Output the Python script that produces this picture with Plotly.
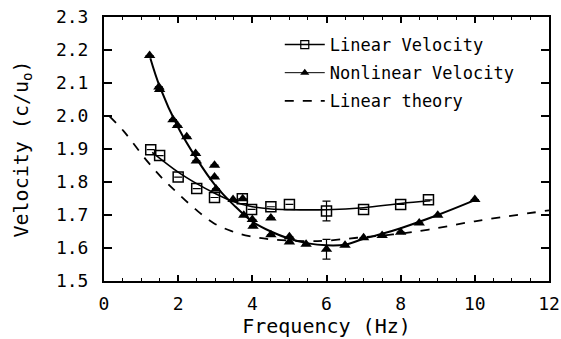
import plotly.graph_objects as go

# Linear velocity (squares)
lin_x = [1.26, 1.5, 2.0, 2.5, 2.98, 3.73, 3.98, 4.5, 5.0, 6.0, 7.0, 8.0, 8.75]
lin_y = [1.898, 1.88, 1.815, 1.78, 1.753, 1.749, 1.717, 1.725, 1.732, 1.712, 1.717, 1.732, 1.746]
lin_err = [0, 0, 0, 0, 0, 0, 0, 0, 0, 0.03, 0, 0, 0]

# Nonlinear velocity (triangles)
nl_x = [1.23, 1.48, 1.5, 1.86, 1.98, 2.23, 2.47, 2.49, 2.98, 2.98, 3.02, 3.48, 3.74, 3.77,
        4.0, 4.02, 4.5, 4.5, 5.0, 5.0, 5.45, 6.0, 6.5, 7.0, 7.5, 8.0, 8.5, 9.0, 10.0]
nl_y = [2.183, 2.088, 2.08, 1.989, 1.971, 1.937, 1.886, 1.864, 1.851, 1.815, 1.779, 1.747, 1.749, 1.699,
        1.686, 1.666, 1.640, 1.691, 1.634, 1.618, 1.611, 1.596, 1.608, 1.631, 1.638, 1.648, 1.676, 1.699, 1.747]
nl_err = [0] * 21 + [0.03] + [0] * 7

# Fitted curves
linfit_x = [1.3, 2.0, 2.5, 3.0, 3.5, 4.0, 4.5, 5.0, 6.0, 7.0, 8.0, 8.8]
linfit_y = [1.89, 1.83, 1.795, 1.765, 1.74, 1.725, 1.718, 1.716, 1.716, 1.722, 1.735, 1.743]

nlfit_x = [1.25, 1.5, 2.0, 2.5, 3.0, 3.5, 4.0, 4.5, 5.0, 5.5, 6.0, 6.5, 7.0, 7.5, 8.0, 9.0, 10.0]
nlfit_y = [2.175, 2.09, 1.965, 1.87, 1.79, 1.73, 1.68, 1.65, 1.628, 1.614, 1.608, 1.61, 1.628, 1.643, 1.66, 1.70, 1.745]

# Linear theory (dashed)
th_x = [0.15, 0.53, 1.13, 1.6, 1.98, 2.47, 2.95, 3.44, 3.92, 4.5, 5.47, 5.95, 6.82, 7.79, 8.76, 10.0, 12.0]
th_y = [1.999, 1.954, 1.868, 1.808, 1.767, 1.717, 1.676, 1.651, 1.636, 1.626, 1.621, 1.622, 1.631, 1.641, 1.656, 1.681, 1.714]

x_ticks = [0, 2, 4, 6, 8, 10, 12]
y_ticks = [1.5, 1.6, 1.7, 1.8, 1.9, 2.0, 2.1, 2.2, 2.3]

FONT = "DejaVu Sans Mono"

fig = go.Figure()

# fit lines (not in legend)
fig.add_trace(go.Scatter(x=linfit_x, y=linfit_y, mode="lines", line=dict(color="black", width=1.6, shape="spline"),
                         showlegend=False, hoverinfo="skip"))
fig.add_trace(go.Scatter(x=nlfit_x, y=nlfit_y, mode="lines", line=dict(color="black", width=2, shape="spline"),
                         showlegend=False, hoverinfo="skip"))

fig.add_trace(go.Scatter(x=lin_x, y=lin_y, mode="markers", name="Linear Velocity",
                         marker=dict(symbol="square-open", size=10, color="black", line=dict(width=1.5)),
                         error_y=dict(type="data", array=lin_err, color="black", thickness=1.2, width=4),
                         showlegend=False))
fig.add_trace(go.Scatter(x=nl_x, y=nl_y, mode="markers", name="Nonlinear Velocity",
                         marker=dict(symbol="triangle-up", size=10, color="black"),
                         error_y=dict(type="data", array=nl_err, color="black", thickness=1.2, width=4),
                         showlegend=False))

# legend entries
fig.add_trace(go.Scatter(x=[None], y=[None], mode="lines+markers", name="Linear Velocity", legendgroup="a",
                         line=dict(color="black", width=1.5),
                         marker=dict(symbol="square-open", size=8, color="black", line=dict(width=1.2))))
fig.add_trace(go.Scatter(x=[None], y=[None], mode="lines+markers", name="Nonlinear Velocity", legendgroup="b",
                         line=dict(color="black", width=1),
                         marker=dict(symbol="triangle-up", size=8, color="black")))
fig.add_trace(go.Scatter(x=th_x, y=th_y, mode="lines", name="Linear theory", legendgroup="c",
                         line=dict(color="black", width=1.8, dash="dash", shape="spline")))

axis_common = dict(showgrid=False, zeroline=False, showline=True, linecolor="black", linewidth=2,
                   mirror="ticks", ticks="inside", tickcolor="black", tickwidth=1.5, automargin=False,
                   tickfont=dict(family=FONT, size=18, color="black"))

fig.update_xaxes(range=[0, 12], tickvals=x_ticks, ticktext=[str(v) for v in x_ticks], ticklen=6,
                 ticklabelstandoff=5,
                 minor=dict(dtick=0.5, ticks="inside", ticklen=3, tickcolor="black", tickwidth=1),
                 title=dict(text="Frequency (Hz)", font=dict(family=FONT, size=20, color="black"), standoff=6),
                 **axis_common)
fig.update_yaxes(range=[1.5, 2.3], tickvals=y_ticks, ticktext=[f"{v:.1f}" for v in y_ticks], ticklen=8,
                 ticklabelstandoff=10,
                 title=dict(text="Velocity (c/u<sub>o</sub>)", font=dict(family=FONT, size=20, color="black"),
                            standoff=22),
                 **axis_common)

fig.update_layout(
    width=561, height=339,
    margin=dict(l=104, r=12, t=17, b=58),
    paper_bgcolor="white", plot_bgcolor="white",
    showlegend=True,
    legend=dict(x=0.395, y=0.962, xanchor="left", yanchor="top", bgcolor="rgba(0,0,0,0)",
                font=dict(family=FONT, size=17, color="black"), tracegroupgap=3, itemwidth=40),
)

fig.write_html("out.html")
